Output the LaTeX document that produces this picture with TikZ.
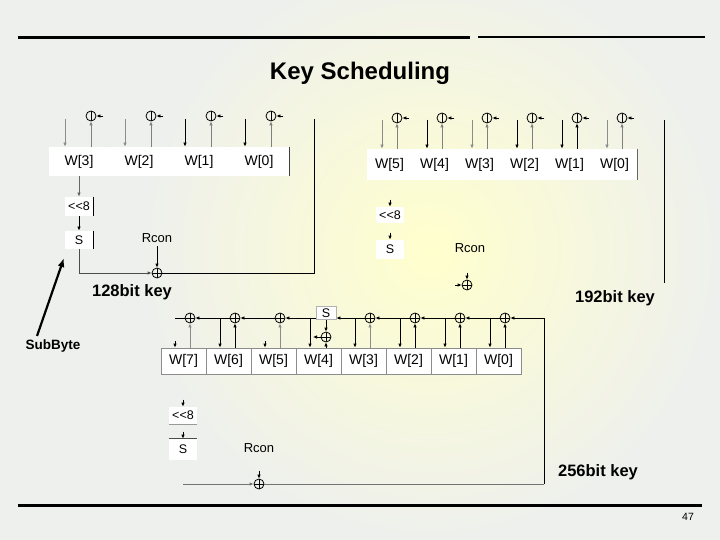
\documentclass[tikz,border=0pt]{standalone}
\usepackage{fontspec}
\setmainfont{Liberation Sans}
\usetikzlibrary{arrows.meta}
\definecolor{fondo}{RGB}{238,240,237}
\definecolor{brillo}{RGB}{255,255,205}
\begin{document}
\begin{tikzpicture}[
    x=1pt,
    y=-1pt,
    >={Latex[length=4pt,width=3.6pt]},
    line width=0.8pt,
    wcaja/.style={fill=white,inner sep=0pt,font=\fontsize{14}{14}\selectfont},
    opcaja/.style={fill=white,inner sep=0pt,minimum width=28pt,
        font=\fontsize{12.5}{12.5}\selectfont},
    xorv/.style={circle,draw,minimum size=10pt,inner sep=0pt,
        path picture={\draw (path picture bounding box.north)
            -- (path picture bounding box.south);}},
    xorp/.style={circle,draw,minimum size=10pt,inner sep=0pt,
        path picture={\draw (path picture bounding box.north)
            -- (path picture bounding box.south)
            (path picture bounding box.west)
            -- (path picture bounding box.east);}},
    rotulo/.style={font=\bfseries\fontsize{16.5}{16.5}\selectfont},
    texto/.style={font=\fontsize{13}{13}\selectfont}
]
    \useasboundingbox (0,0) rectangle (720,540);
    \fill[fondo] (0,0) rectangle (720,540);
    \begin{scope}
        \clip (0,0) rectangle (720,540);
        \shade[inner color=brillo,outer color=fondo] (430,250) circle (290);
    \end{scope}

    % Marco de la diapositiva
    \draw[line width=3pt] (18,38) -- (470,38);
    \draw[line width=2.5pt] (478,37) -- (705,37);
    \draw[line width=3pt] (18,505) -- (702,505);
    \node[font=\bfseries\fontsize{24}{24}\selectfont] (titulo) at (360,73)
        {Key Scheduling};
    \node[font=\fontsize{10.5}{10.5}\selectfont] (pagina) at (688,517) {47};

    % Clave de 128 bits
    \foreach \k/\j/\c in {3/0/black!45,2/1/black!45,1/2/black,0/3/black} {
        \node[wcaja,minimum width=60pt,minimum height=29pt] (a\k)
            at (79+60*\j,161.5) {W[\k]};
        \draw[black!75] (a\k.north east) -- (a\k.south east);
        \node[xorv] (ax\k) at (91+60*\j,116) {};
        \draw[->,black!50] (a\k.north -| ax\k) -- (ax\k.south);
        \draw[->] ([xshift=7pt]ax\k.east) -- (ax\k.east);
        \coordinate (ad\k) at (65+60*\j,119);
        \draw[->,\c] (ad\k) -- (ad\k |- a\k.north);
    }
    \node[opcaja,minimum height=19pt] (a8) at (79,206.5) {<\kern0pt<8};
    \draw (a8.north east) -- (a8.south east);
    \node[opcaja,minimum height=18pt] (as) at (79,240) {S};
    \draw (as.north east) -- (as.south east);
    \draw[->,black!60] (a3.south) -- (a8.north);
    \draw[->] (a8.south) -- (as.north);
    \node[texto] (arc) at (157,238) {Rcon};
    \node[xorp] (ar) at (157,273) {};
    \draw[->] (arc.south) -- (ar.north);
    \draw[->,black!70] (as.south) |- (ar.west);
    \coordinate (ac) at (314,119);
    \draw (ar.east) -| (ac);
    \node[rotulo] (a128) at (132,292) {128bit key};

    % Clave de 192 bits
    \foreach \k/\j/\c/\d in {5/0/black!45/black!50,4/1/black/black!50,
        3/2/black!45/black!50,2/3/black/black!50,1/4/black/black,
        0/5/black!45/black!50} {
        \node[wcaja,minimum width=45pt,minimum height=31pt] (b\k)
            at (389.5+45*\j,164.5) {W[\k]};
        \draw[black!60] (b\k.north east) -- (b\k.south east);
        \node[xorv] (bx\k) at (397+45*\j,118) {};
        \draw[->,\d] (b\k.north -| bx\k) -- (bx\k.south);
        \draw[->] ([xshift=7pt]bx\k.east) -- (bx\k.east);
        \coordinate (bd\k) at (382+45*\j,120);
        \draw[->,\c] (bd\k) -- (bd\k |- b\k.north);
    }
    \node[opcaja,minimum height=16pt] (b8) at (390,215) {<\kern0pt<8};
    \draw[->] ([yshift=7pt]b8.north) -- (b8.north);
    \node[opcaja,minimum height=19pt] (bs) at (390,249.5) {S};
    \draw[->] ([yshift=7pt]bs.north) -- (bs.north);
    \node[texto] (brc) at (470,248) {Rcon};
    \node[xorp] (br) at (467,285) {};
    \draw[->] ([yshift=7pt]br.north) -- (br.north);
    \draw[->] ([xshift=-7pt]br.west) -- (br.west);
    \coordinate (bc1) at (664,120);
    \coordinate (bc2) at (664,283);
    \draw (bc1) -- (bc2);
    \node[rotulo] (b192) at (615,298) {192bit key};

    % Clave de 256 bits
    \foreach \k/\j in {7/0,6/1,5/2,4/3,3/4,2/5,1/6,0/7} {
        \node[wcaja,draw=black!45,minimum width=45pt,minimum height=26pt]
            (c\k) at (183.5+45*\j,361) {W[\k]};
    }
    \foreach \k/\j/\c in {7/0/black!45,6/1/black,5/2/black!45,3/4/black!45,
        2/5/black,1/6/black,0/7/black} {
        \node[xorp] (cx\k) at (190+45*\j,318) {};
        \draw[->,\c] (c\k.north -| cx\k) -- (cx\k.south);
    }
    \node[opcaja,minimum width=20pt,minimum height=13pt,draw=black!30] (cs)
        at (326,313) {S};
    \node[xorp] (cx4) at (326,337) {};
    \draw[->] (cs.south) -- (cx4.north);
    \draw[->] (c4.north -| cx4) -- (cx4.south);
    \coordinate (cx4o) at (313,337);
    \draw[->] (cx4.west) -- (cx4o);
    \coordinate (cr) at (544,318);
    \coordinate (cb) at (544,484);
    \coordinate (cl) at (175,318);
    \draw[->] (cx0.west) -- (cx1.east);
    \draw[->] (cx1.west) -- (cx2.east);
    \draw[->] (cx2.west) -- (cx3.east);
    \draw[->] (cx3.west) -- (cs.east |- cx3);
    \draw[->] (cs.west |- cx3) -- (cx5.east);
    \draw[->] (cx5.west) -- (cx6.east);
    \draw[->] (cx6.west) -- (cx7.east);
    \draw (cx7.west) -- (cl);
    \foreach \k/\j in {6/1,4/3,3/4,2/5,1/6,0/7} {
        \coordinate (cd\k) at (175+45*\j,318);
        \draw[->] (cd\k) -- (cd\k |- c\k.north);
    }
    \foreach \k/\j in {7/0,5/2} {
        \coordinate (cd\k) at (175+45*\j,341);
        \draw[->] (cd\k) -- (cd\k |- c\k.north);
    }
    \node[opcaja,minimum height=17pt] (c8) at (183,415.5) {<\kern0pt<8};
    \draw[black!40] (c8.south west) -- (c8.south east);
    \draw[->] ([yshift=7pt]c8.north) -- (c8.north);
    \node[opcaja,minimum height=21pt] (cs3) at (183,449.5) {S};
    \draw[black!70] (cs3.north west) -- (cs3.north east);
    \draw[->] ([yshift=7pt]cs3.north) -- (cs3.north);
    \node[texto] (crc) at (259,448) {Rcon};
    \node[xorp] (cxr) at (259,484) {};
    \draw[->] ([yshift=8pt]cxr.north) -- (cxr.north);
    \coordinate (cl2) at (183,484);
    \draw[->,black!55] (cl2) -- (cxr.west);
    \draw[black!55] (cxr.east) -- (cb);
    \draw[->] (cb) -- (cr) -- (cx0.east);
    \node[rotulo] (c256) at (598,472) {256bit key};

    % SubByte
    \node[font=\bfseries\fontsize{13.5}{13.5}\selectfont] (sb) at (53,346) {SubByte};
    \coordinate (sbh) at (64,258);
    \draw[-{Latex[length=9pt,width=7pt]},line width=2.2pt]
        ([xshift=-16pt]sb.north) -- (sbh);
\end{tikzpicture}
\end{document}
